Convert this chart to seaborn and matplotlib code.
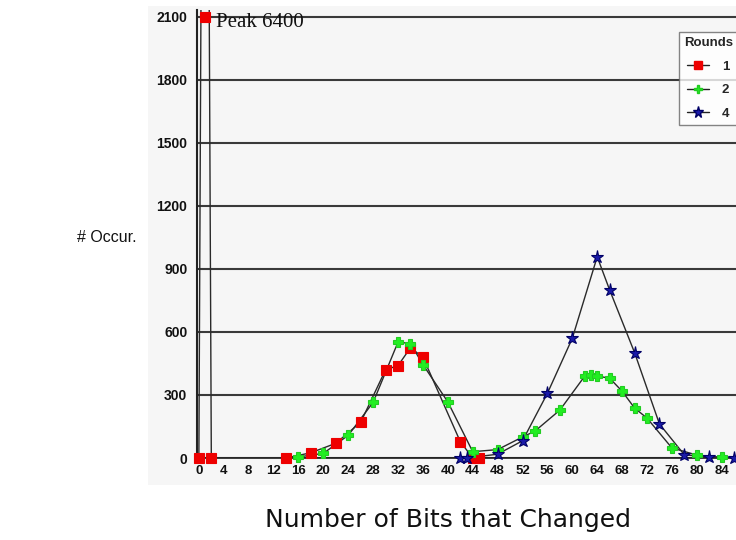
import matplotlib
matplotlib.use("Agg")
import matplotlib.pyplot as plt
from matplotlib.lines import Line2D
from matplotlib.patches import Rectangle
import numpy as np
import pandas as pd
import seaborn as sns

# Occurrence counts of changed bits, per number of rounds
bits_r1 = [0, 1, 2, 14, 18, 22, 26, 30, 32, 34, 36, 42, 44, 45]
occ_r1 = [0, 6400, 0, 0, 25, 70, 170, 420, 440, 525, 480, 78, 0, 0]

bits_r2 = [16, 20, 24, 28, 32, 34, 36, 40, 44, 48, 52, 54, 58, 62, 63, 64,
           66, 68, 70, 72, 76, 80, 84]
occ_r2 = [5, 22, 108, 265, 552, 545, 445, 267, 30, 40, 100, 128, 228, 390,
          395, 390, 380, 318, 238, 190, 48, 14, 3]

bits_r4 = [42, 43, 48, 52, 56, 60, 64, 66, 70, 74, 78, 82, 86]
occ_r4 = [0, 0, 18, 82, 308, 570, 958, 800, 502, 162, 15, 5, 2]

round_labels = ["1", "2", "4"]
peak_value = max(occ_r1)

y_ticks = list(range(0, 2101, 300))
x_ticks = list(range(0, 85, 4))
y_cap = y_ticks[-1]

sns.set_theme(style="white")
plt.rcParams["font.family"] = ["Liberation Sans", "DejaVu Sans"]

fig = plt.figure(figsize=(7.36, 5.40), dpi=100)
fig.patch.set_facecolor("white")

# light grey panel behind the plot and its tick labels
panel = Rectangle((148 / 736, 1 - 485 / 540), (736 - 148) / 736,
                  (485 - 6) / 540, transform=fig.transFigure,
                  facecolor="#f6f6f6", edgecolor="none", zorder=-5)
fig.patches.append(panel)

ax = fig.add_axes([197 / 736, 82 / 540, 539 / 736, 448 / 540])
ax.set_facecolor("none")
ax.set_zorder(1)

series = [
    (bits_r1, occ_r1, "#ee0000", "s", 6.5, "#ee0000"),
    (bits_r2, occ_r2, "#22ee22", "P", 7, "#22cc22"),
    (bits_r4, occ_r4, "#1a1aa8", "*", 9.5, "#000066"),
]

for bits, occ, color, marker, size, edge in series:
    df = pd.DataFrame({"bits": bits, "occ": occ})
    sns.lineplot(data=df, x="bits", y="occ", ax=ax, color="#2a2a2a",
                 linewidth=1.0, sort=False, estimator=None, zorder=3)
    shown = np.minimum(df["occ"].to_numpy(), y_cap)
    ax.plot(df["bits"], shown, linestyle="none", marker=marker,
            markersize=size, markerfacecolor=color, markeredgecolor=edge,
            markeredgewidth=0.8, zorder=4, clip_on=False)

ax.annotate(f"Peak {peak_value}", xy=(bits_r1[int(np.argmax(occ_r1))], y_cap),
            xytext=(8, -4), textcoords="offset points", va="center",
            ha="left", fontsize=15, family=["Liberation Serif", "DejaVu Serif"],
            color="#111111", zorder=5)

ax.set_xlim(-0.3, 86.3)
ax.set_ylim(0, 2133)
ax.set_yticks(y_ticks)
ax.set_xticks(x_ticks)
ax.set_yticklabels([str(v) for v in y_ticks], fontsize=10, fontweight="bold")
ax.set_xticklabels([str(v) for v in x_ticks], fontsize=9.5, fontweight="bold")
ax.tick_params(axis="y", length=5, width=1, color="#222222", pad=2)
ax.tick_params(axis="x", length=4, width=1, color="#999999", pad=1)
for lab in ax.get_xticklabels() + ax.get_yticklabels():
    lab.set_color("#111111")

ax.grid(False)
for yv in y_ticks:
    ax.axhline(yv, color="#3a3a3a", linewidth=1.5, zorder=1)

for side in ["top", "right"]:
    ax.spines[side].set_visible(False)
ax.spines["bottom"].set_color("#222222")
ax.spines["left"].set_color("#222222")
ax.spines["left"].set_linewidth(1.5)
ax.set_xlabel("")
ax.set_ylabel("")

handles = [Line2D([], [], color="#222222", linewidth=1.0, marker=m,
                  markersize=s * 0.85, markerfacecolor=c, markeredgecolor=e)
           for (_, _, c, m, s, e) in series]
leg = ax.legend(handles, round_labels, title="Rounds", loc="upper right",
                bbox_to_anchor=(1.004, 0.951),
                frameon=True, fancybox=False, handlelength=1.6,
                handletextpad=1.0, borderpad=0.4, labelspacing=0.85,
                borderaxespad=0.0,
                prop={"weight": "bold", "size": 9.5})
leg.get_title().set_fontweight("bold")
leg.get_title().set_fontsize(9.5)
leg.get_frame().set_edgecolor("#666666")
leg.get_frame().set_facecolor("white")
leg.get_frame().set_linewidth(1.0)
leg.set_zorder(6)

fig.text(107 / 736, 1 - 237 / 540, "# Occur.", ha="center", va="center",
         fontsize=11.5, color="#111111")
fig.text(448 / 736, 1 - 520 / 540, "Number of Bits that Changed",
         ha="center", va="center", fontsize=18, color="#111111",
         family=["DejaVu Sans"])

fig.savefig("out.png", dpi=100, facecolor="white")
